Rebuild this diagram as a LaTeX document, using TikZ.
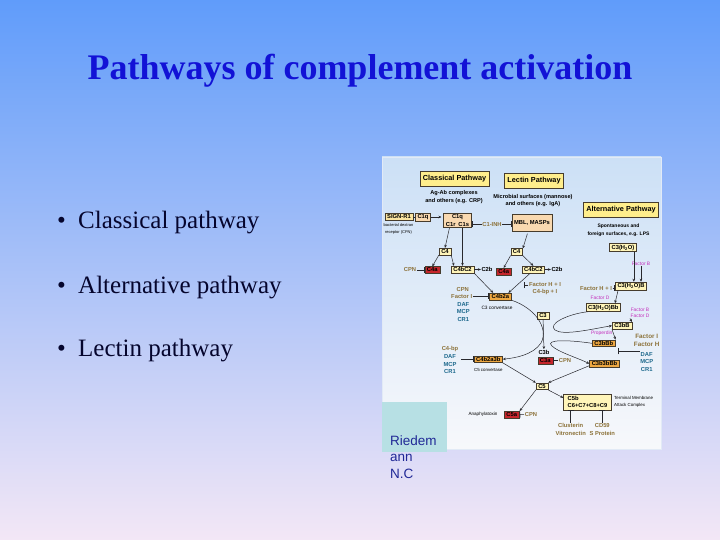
\documentclass[tikz,border=0pt]{standalone}
\usepackage{fontspec}
\setmainfont{Liberation Serif}
\setsansfont{Liberation Sans}
\usetikzlibrary{arrows.meta}

\definecolor{bgtop}{RGB}{96,156,250}
\definecolor{bgmid}{RGB}{176,203,246}
\definecolor{bgbot}{RGB}{243,231,246}
\definecolor{titlecol}{RGB}{18,18,214}
\definecolor{bulcol}{RGB}{5,5,45}
\definecolor{pantop}{RGB}{204,224,246}
\definecolor{panbot}{RGB}{247,248,251}
\definecolor{panline}{RGB}{226,234,246}
\definecolor{boxline}{RGB}{70,60,45}
\definecolor{hdfill}{RGB}{255,238,140}
\definecolor{palefill}{RGB}{255,245,185}
\definecolor{tanfill}{RGB}{249,217,176}
\definecolor{signfill}{RGB}{250,228,160}
\definecolor{orfill}{RGB}{238,168,66}
\definecolor{redfill}{RGB}{198,38,44}
\definecolor{olivetx}{RGB}{140,114,58}
\definecolor{tealtx}{RGB}{28,104,140}
\definecolor{pinktx}{RGB}{196,48,188}
\definecolor{lncol}{RGB}{40,40,45}
\definecolor{riedfill}{RGB}{183,224,228}
\definecolor{riedtx}{RGB}{32,40,150}

\newcommand\hdfont{\sffamily\bfseries\fontsize{7.3}{8}\selectfont}
\newcommand\lblfont{\sffamily\bfseries\fontsize{5.8}{7.6}\selectfont}
\newcommand\srcfont{\sffamily\bfseries\fontsize{5.6}{7.7}\selectfont}
\newcommand\notefont{\sffamily\fontsize{4.4}{6.6}\selectfont}
\newcommand\facfont{\sffamily\fontsize{4.9}{6.6}\selectfont}

\tikzset{
  titletx/.style={font=\bfseries\fontsize{36}{40}\selectfont, text=titlecol, anchor=base, inner sep=0pt},
  bul/.style={font=\fontsize{25}{30}\selectfont, text=bulcol, anchor=base west, inner sep=0pt},
  hdbox/.style={draw=boxline, fill=hdfill, font=\hdfont, line width=0.6pt, inner xsep=3pt, minimum height=15pt},
  palebox/.style={draw=boxline, fill=palefill, font=\lblfont, line width=0.5pt, inner xsep=2.2pt, inner ysep=1.3pt, align=center},
  tanbox/.style={palebox, fill=tanfill},
  signbox/.style={palebox, fill=signfill},
  orbox/.style={palebox, fill=orfill},
  redbox/.style={palebox, fill=redfill},
  oliv/.style={text=olivetx, font=\lblfont, align=center, inner sep=0.5pt},
  regl/.style={text=tealtx, font=\lblfont, align=center, inner sep=0.5pt},
  facl/.style={text=pinktx, font=\facfont, align=center, inner sep=0.5pt},
  plain/.style={font=\lblfont, align=center, inner sep=0.5pt},
  src/.style={font=\srcfont, align=center, inner sep=0.5pt},
  note/.style={font=\notefont, align=center, inner sep=0.5pt},
  arr/.style={draw=lncol, line width=0.5pt, -{Stealth[length=3pt,width=2.6pt]}},
  inh/.style={draw=lncol, line width=0.5pt, -{Bar[width=6pt,line width=0.7pt]}},
  ried/.style={font=\sffamily\fontsize{13.5}{16.5}\selectfont, text=riedtx, anchor=base west, inner sep=0pt}
}

\begin{document}
\begin{tikzpicture}[x=1pt,y=-1pt]
\useasboundingbox (0,0) rectangle (720,540);
\shade[top color=bgtop,middle color=bgmid,bottom color=bgbot] (0,0) rectangle (720,540);

\node[titletx] (title) at (360,80) {Pathways of complement activation};
\node[bul] (dot1) at (57,229) {\textbullet};
\node[bul] (bul1) at (78,229) {Classical pathway};
\node[bul] (dot2) at (57,293) {\textbullet};
\node[bul] (bul2) at (78,293) {Alternative pathway};
\node[bul] (dot3) at (57,356) {\textbullet};
\node[bul] (bul3) at (78,356) {Lectin pathway};

\shadedraw[top color=pantop,bottom color=panbot,draw=panline,line width=0.8pt] (382,157) rectangle (661,449);

\node[hdbox] (classhd) at (454.5,178.5) {Classical Pathway};
\node[hdbox] (lecthd) at (534,181) {Lectin Pathway};
\node[hdbox] (althd) at (621,209.5) {Alternative Pathway};
\node[src] (classsrc) at (454,197.2) {Ag-Ab complexes\\and others (e.g. CRP)};
\node[src] (lectsrc) at (533,200.7) {Microbial surfaces (mannose)\\and others (e.g. IgA)};
\node[src,font=\sffamily\bfseries\fontsize{5}{7.7}\selectfont] (altsrc) at (618.5,230) {Spontaneous and\\foreign surfaces, e.g. LPS};

\node[signbox] (signr) at (399,217) {SIGN-R1};
\node[tanbox] (cq) at (423,217) {C1q};
\node[note,font=\sffamily\fontsize{4}{6.3}\selectfont] (bactrec) at (398.5,229) {bacterial dextran\\receptor (CPN)};
\node[tanbox] (c1qrs) at (457.5,220.5) {C1q\\C1r\enspace C1s};
\node[oliv] (c1inh) at (492,224.5) {C1-INH};
\node[tanbox, minimum height=17pt] (mbl) at (532,223) {MBL, MASPs};

\node[palebox] (c4cl) at (445,251.5) {C4};
\node[redbox] (c4acl) at (432.3,270) {C4a};
\node[oliv] (cpn1) at (410,270) {CPN};
\node[palebox] (c4bc2cl) at (462.5,269.5) {C4bC2};
\node[plain] (c2bcl) at (487,269.5) {C2b};
\node[palebox] (c4lec) at (516.7,252) {C4};
\node[redbox] (c4alec) at (503.7,271.5) {C4a};
\node[palebox] (c4bc2lec) at (533.3,269.5) {C4bC2};
\node[plain] (c2blec) at (557,269.5) {C2b};
\node[oliv] (fhi) at (545,288.5) {Factor H + I\\C4-bp + I};
\coordinate (lecbar) at (524,285);

\node[oliv] (cpn4) at (462.7,289.3) {CPN};
\node[oliv] (faci) at (461.7,296.3) {Factor I};
\node[regl] (dafl) at (463.3,311.7) {DAF\\MCP\\CR1};
\node[orbox] (c4b2a) at (500.3,296.5) {C4b2a};
\node[note,font=\sffamily\fontsize{4.8}{6}\selectfont] (c3conv) at (497,307.5) {C3 convertase};
\node[palebox] (c3) at (543,315.5) {C3};
\node[plain] (c3blbl) at (544,352) {C3b};
\node[redbox] (c3a) at (545.3,360.5) {C3a};
\node[oliv] (cpn2) at (565,360.5) {CPN};

\node[oliv] (c4bp) at (450,349) {C4-bp};
\node[regl] (dafm) at (450,364.3) {DAF\\MCP\\CR1};
\node[orbox] (c4b2a3b) at (488.3,359.2) {C4b2a3b};
\node[note] (c5conv) at (488.3,369.5) {C5 convertase};

\node[palebox] (c5) at (542,386.3) {C5};
\node[redbox] (c5a) at (511.8,414.7) {C5a};
\node[note,font=\sffamily\fontsize{4.6}{6}\selectfont] (anaph) at (483,414.5) {Anaphylatoxin};
\node[oliv] (cpn3) at (531,414.5) {CPN};
\node[palebox, align=left, inner xsep=4pt, inner ysep=2pt] (mac) at (587.5,402) {C5b\\C6+C7+C8+C9};
\node[note, align=left, anchor=west] (term) at (613.5,402) {Terminal Membrane\\Attack Complex};
\node[oliv] (clus) at (570.7,429.5) {Clusterin\\Vitronectin};
\node[oliv] (cd59) at (602.3,429.5) {CD59\\S Protein};

\node[palebox] (c3h2o) at (623,247.5) {C3(H\textsubscript{2}O)};
\node[facl] (facb1) at (641,263.5) {Factor B};
\node[palebox] (c3h2ob) at (631,286) {C3(H\textsubscript{2}O)B};
\node[oliv] (fhi2) at (596,288.3) {Factor H + I};
\node[facl] (facd1) at (600,297.7) {Factor D};
\node[palebox] (c3h2obb) at (603.3,307.5) {C3(H\textsubscript{2}O)Bb};
\node[facl] (facbd) at (640,312.7) {Factor B\\Factor D};
\node[palebox] (c3bb) at (622,325.7) {C3bB};
\node[facl] (prop) at (601.7,333.3) {Properdin};
\node[orbox] (c3bbb) at (603.8,343.3) {C3bBb};
\node[oliv,font=\sffamily\bfseries\fontsize{6.3}{7.6}\selectfont] (fifh) at (646.7,340.5) {Factor I\\Factor H};
\node[regl] (dafr) at (646.7,361.7) {DAF\\MCP\\CR1};
\node[orbox] (c3b3bbb) at (604.5,363.7) {C3b3bBb};

\draw[lncol,line width=0.5pt] (signr) -- (cq);
\draw[arr,shorten >=2pt] (cq.east) -- (cq.east -| c1qrs.west);
\draw[inh] (c1inh.west) -- (c1inh.west -| c1qrs.east);
\draw[inh] (c1inh.east) -- (c1inh.east -| mbl.west);
\draw[arr] ([xshift=6pt]c1qrs.south west) -- (c4cl.north);
\draw[arr] (c1qrs.south -| c4bc2cl.north) -- (c4bc2cl.north);
\draw[arr] (c4cl.south west) -- (c4acl.north);
\draw[arr] (c4cl.south east) -- ([xshift=3pt]c4bc2cl.north west);
\draw[inh] (cpn1.east) -- (c4acl.west);
\draw[arr] (c4bc2cl.east) -- (c2bcl.west);
\draw[arr,shorten <=2pt] ([xshift=-4pt]mbl.south) -- (c4lec.north east);
\draw[arr] (c4lec.south west) -- (c4alec.north);
\draw[arr] (c4lec.south east) -- (c4bc2lec.north);
\draw[arr] (c4bc2lec.east) -- (c2blec.west);
\draw[arr] (c4bc2cl.south east) -- ([xshift=4pt]c4b2a.north west);
\draw[arr] ([xshift=-3pt]c4bc2lec.south) -- ([xshift=-3pt]c4b2a.north east);
\draw[inh] (fhi.west |- lecbar) -- (lecbar);
\draw[inh] (faci.east) -- (faci.east -| c4b2a.west);
\draw[arr] (c4b2a.south east) .. controls (535,308) and (549,328) .. (541,343) .. controls (533,355) and (515,358) .. (c4b2a3b.east);
\draw[arr] (c3) -- (c3blbl);
\draw[inh] (cpn2.west) -- (c3a.east);
\draw[inh] ([xshift=4pt]dafm.east |- c4b2a3b.west) -- (c4b2a3b.west);
\draw[arr] (c4b2a3b.south east) -- (c5.north west);
\draw[arr] ([yshift=-2pt]c3b3bbb.west) -- (c5.north east);
\draw[arr] (c5.south west) -- (c5a.north east);
\draw[inh] (cpn3.west) -- (c5a.east);
\draw[arr] (c5.south east) -- ([yshift=-4pt]mac.north west);
\draw[inh] (clus.north) -- (clus.north |- mac.south);
\draw[inh] (cd59.north) -- (cd59.north |- mac.south);

\draw[arr] ([xshift=-3pt]c3h2o.south east) -- ([xshift=-3pt]c3h2o.south east |- c3h2ob.north);
\draw[arr] (facb1.south) -- (facb1.south |- c3h2ob.north);
\draw[inh] (fhi2.east) -- (fhi2.east -| c3h2ob.west);
\draw[arr] ([xshift=3pt]c3h2ob.south west) -- ([xshift=-6pt]c3h2obb.north east);
\draw[arr] ([xshift=2pt]c3h2obb.south west) .. controls (568,314) and (547,324) .. (555,330) .. controls (563,336) and (592,329) .. (c3bb.west);
\draw[arr] (facbd.south west) -- (c3bb.north east);
\draw[arr] (c3bb.south west) -- (c3bbb.north east);
\draw[arr] (c3bbb.west) .. controls (570,340) and (544,339) .. (552,346) .. controls (558,352) and (578,358) .. (c3b3bbb.west);
\draw[inh] (dafr.north west) -- ([xshift=2pt]c3bbb.east |- dafr.north west);

\fill[riedfill] (382,402) rectangle (447,452);
\node[ried] (ried1) at (390,445) {Riedem};
\node[ried] (ried2) at (390,461.5) {ann};
\node[ried] (ried3) at (390,478) {N.C};
\end{tikzpicture}
\end{document}
